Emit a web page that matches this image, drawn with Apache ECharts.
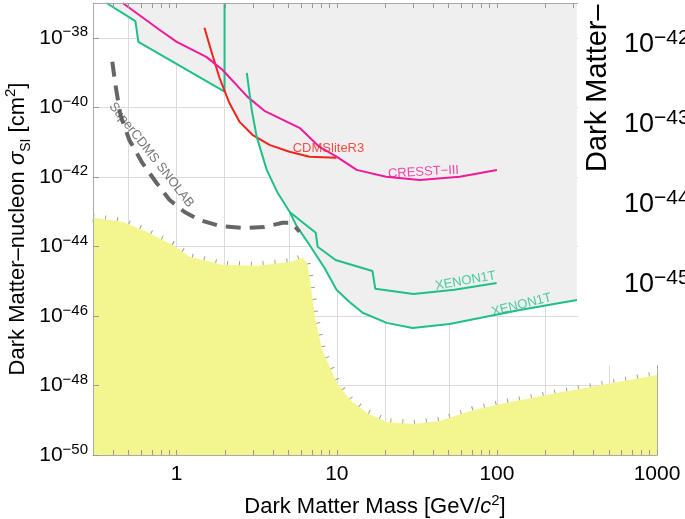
<!DOCTYPE html>
<html>
<head>
<meta charset="utf-8">
<title>Dark matter direct detection limits</title>
<script src="https://cdn.jsdelivr.net/npm/echarts@6/dist/echarts.min.js"></script>
<style>
    html, body { margin: 0; padding: 0; background: #fff; }
    #chart { width: 685px; height: 519px; }
</style>
</head>
<body>
<div id="chart"></div>
<script>
// masses in GeV/c^2, cross sections as log10(sigma / cm^2)
var greenMass = [0.364, 0.552, 0.576, 1.99, 1.99];
var greenLogSigma = [-37.0, -37.52, -38.12, -39.55, -37.0];

var cdmsMass = [1.49, 1.67, 1.85, 2.13, 2.47, 2.97, 3.8, 5.06, 6.75, 9.96];
var cdmsLogSigma = [-37.71, -38.49, -39.15, -39.87, -40.42, -40.79, -41.08, -41.28, -41.42, -41.45];

var cresstMass = [0.46, 0.78, 1.0, 1.53, 1.93, 2.77, 3.53, 5.85, 7.8, 9.96, 13.3, 20.3, 33, 58.6, 100];
var cresstLogSigma = [-37.0, -37.77, -38.12, -38.55, -38.92, -39.70, -40.10, -40.59, -41.14, -41.42, -41.80, -42.0, -42.09, -42.0, -41.80];

var xenonMass = [2.74, 2.94, 3.16, 3.65, 4.27, 5.08, 6.05, 7.39, 7.59, 9.82, 16.7, 17.4, 30.1, 54.3, 99.6];
var xenonLogSigma = [-39.01, -40.07, -40.85, -41.80, -42.46, -43.01, -43.29, -43.61, -44.01, -44.39, -44.71, -45.22, -45.37, -45.25, -45.05];

var xenon2Mass = [5.08, 5.6, 6.76, 8.38, 9.96, 12.0, 14.5, 20.5, 29.7, 50.6, 78, 139, 316];
var xenon2LogSigma = [-43.01, -43.41, -43.96, -44.62, -45.25, -45.60, -45.91, -46.20, -46.35, -46.23, -46.06, -45.83, -45.54];

var snolabMass = [0.396, 0.414, 0.445, 0.506, 0.61, 0.747, 0.9, 1.12, 1.39, 1.85, 2.65, 3.53, 4.58, 5.21, 5.85];
var snolabLogSigma = [-38.69, -39.35, -40.22, -40.94, -41.60, -42.17, -42.66, -43.01, -43.24, -43.41, -43.47, -43.44, -43.32, -43.32, -43.58];

// lower edge of the excluded (grey) region
var excludedMass = [0.364, 0.552, 0.576, 1.94, 2.13, 2.47, 3.16, 3.65, 4.27, 5.08, 5.6, 6.76, 8.38, 9.96, 12.0, 14.5, 20.5, 29.7, 50.6, 78, 139, 316];
var excludedLogSigma = [-37.0, -37.52, -38.12, -39.53, -39.87, -40.42, -40.85, -41.80, -42.46, -43.01, -43.41, -43.96, -44.62, -45.25, -45.60, -45.91, -46.20, -46.35, -46.23, -46.06, -45.83, -45.54];

// neutrino floor (yellow)
var floorMass = [0.3, 0.458, 0.648, 0.94, 1.2, 1.93, 3.16, 5.08, 6.13, 6.5, 6.8, 7.3, 8.1, 10, 12.1, 15.4, 20.5, 29.9, 43.8, 70.8, 115, 237, 488, 1000];
var floorLogSigma = [-43.18, -43.29, -43.58, -43.96, -44.30, -44.53, -44.56, -44.45, -44.33, -44.47, -44.96, -46.03, -46.98, -47.93, -48.42, -48.79, -49.05, -49.11, -49.02, -48.71, -48.50, -48.22, -47.96, -47.70];

// axes
var xTickLabels = [1, 10, 100, 1000];
var yTickLabels = [-50, -48, -46, -44, -42, -40, -38];
var xGridMass = [0.5, 1, 2, 5, 10, 20, 50, 100, 200, 500];
var yGridLog = [-48, -46, -44, -42, -40, -38];
var xMinorMass = [0.4, 0.5, 0.6, 0.7, 0.8, 0.9, 1, 2, 3, 4, 5, 6, 7, 8, 9, 10, 20, 30, 40, 50, 60, 70, 80, 90,
    100, 200, 300, 400, 500, 600, 700, 800, 900, 1000];

// labels of the neighbouring figure that overlaps the top right corner
var otherTickLabels = ['−42', '−43', '−44', '−45'];

var FONT = 'Liberation Sans, Arial, Helvetica, sans-serif';
var GREEN = '#1fbf8c';

function pts(mass, logSigma) {
    return mass.map(function (m, i) { return [Math.log10(m), logSigma[i]]; });
}
function lg(list) {
    return list.map(function (m) { return Math.log10(m); });
}

function curve(name, mass, logSigma, color) {
    return {
        name: name, type: 'line', z: 20, symbol: 'none', silent: true,
        data: pts(mass, logSigma),
        lineStyle: { color: color, width: 2 }
    };
}

// text placed next to a curve
function textLabel(text, m, logSigma, color, rotate) {
    return {
        type: 'scatter', z: 25, silent: true, symbolSize: 1,
        itemStyle: { color: 'transparent' },
        data: [[Math.log10(m), logSigma]],
        label: {
            show: true, position: 'inside', formatter: text, rotate: rotate,
            color: color, fontSize: 13, fontFamily: FONT
        }
    };
}

var myChart = echarts.init(document.getElementById('chart'));

var option = {
    animation: false,
    backgroundColor: '#fff',
    grid: { left: 93, right: 28, top: 3, bottom: 64, containLabel: false, outerBoundsMode: 'none' },
    xAxis: [{
        type: 'value', min: Math.log10(0.3), max: 3, z: 30,
        name: '{t|Dark Matter Mass [GeV/}{i|c}{s|2}{t|]}',
        nameLocation: 'middle', nameGap: 38, nameMoveOverlap: false,
        nameTextStyle: {
            rich: {
                t: { fontSize: 22, lineHeight: 28, fontFamily: FONT, color: '#000' },
                i: { fontSize: 22, lineHeight: 28, fontStyle: 'italic', fontFamily: FONT, color: '#000' },
                s: { fontSize: 15, lineHeight: 15, verticalAlign: 'top', fontFamily: FONT, color: '#000' }
            }
        },
        axisLine: { onZero: false, lineStyle: { color: '#aaa' } },
        axisTick: { inside: true, length: 5, customValues: lg(xMinorMass), lineStyle: { color: '#999' } },
        axisLabel: {
            customValues: lg(xTickLabels), margin: 9,
            fontSize: 21, fontFamily: FONT, color: '#000',
            formatter: function (v) { return String(Math.round(Math.pow(10, v))); }
        },
        splitLine: { show: false }
    }, {
        type: 'value', position: 'top', min: Math.log10(0.3), max: 3, z: 30,
        axisLine: { onZero: false, lineStyle: { color: '#aaa' } },
        axisTick: { inside: true, length: 5, customValues: lg(xMinorMass), lineStyle: { color: '#999' } },
        axisLabel: { show: false },
        splitLine: { show: false }
    }],
    yAxis: [{
        type: 'value', min: -50, max: -37, z: 30,
        name: '{t|Dark Matter–nucleon }{i|σ}{u|SI}{t| [cm}{s|2}{t|]}',
        nameLocation: 'middle', nameRotate: 90, nameGap: 60, nameMoveOverlap: false,
        nameTextStyle: {
            rich: {
                t: { fontSize: 22, lineHeight: 30, fontFamily: FONT, color: '#000' },
                i: { fontSize: 22, lineHeight: 30, fontStyle: 'italic', fontFamily: FONT, color: '#000' },
                u: { fontSize: 14, lineHeight: 14, verticalAlign: 'bottom', fontFamily: FONT, color: '#000' },
                s: { fontSize: 15, lineHeight: 15, verticalAlign: 'top', fontFamily: FONT, color: '#000' }
            }
        },
        axisLine: { show: true, onZero: false, lineStyle: { color: '#aaa' } },
        axisTick: { show: true, inside: true, length: 6, customValues: yTickLabels, lineStyle: { color: '#999' } },
        axisLabel: {
            customValues: yTickLabels, margin: 5,
            formatter: function (v) { return '{b|10}{s|−' + Math.abs(v) + '}'; },
            rich: {
                b: { fontSize: 21, lineHeight: 26, fontFamily: FONT, color: '#000' },
                s: { fontSize: 15, lineHeight: 15, verticalAlign: 'top', fontFamily: FONT, color: '#000' }
            }
        },
        splitLine: { show: false }
    }, {
        type: 'value', position: 'right', min: -50, max: -37, z: 30,
        axisLine: { show: true, onZero: false, lineStyle: { color: '#aaa' } },
        axisTick: { show: false },
        axisLabel: { show: false },
        splitLine: { show: false }
    }],
    series: [
        {
            // grid lines at 1-2-5
            type: 'line', z: 1, silent: true, data: [],
            markLine: {
                silent: true, symbol: 'none', label: { show: false },
                lineStyle: { color: '#dcdcdc', width: 1, type: 'solid' },
                data: lg(xGridMass).map(function (v) { return { xAxis: v }; })
                    .concat(yGridLog.map(function (v) { return { yAxis: v }; }))
            }
        },
        {
            name: 'excluded', type: 'line', z: 10, symbol: 'none', silent: true,
            data: pts(excludedMass, excludedLogSigma),
            lineStyle: { width: 0, opacity: 0 },
            areaStyle: { color: '#efefef', opacity: 1, origin: 'end' }
        },
        {
            // hatch marks along the neutrino floor
            type: 'line', z: 11, symbol: 'none', silent: true,
            data: pts(floorMass, floorLogSigma),
            lineStyle: { color: '#aaa07a', width: 8, type: [1, 11], cap: 'butt' }
        },
        {
            name: 'neutrino floor', type: 'line', z: 12, symbol: 'none', silent: true,
            data: pts(floorMass, floorLogSigma),
            lineStyle: { width: 0, opacity: 0 },
            areaStyle: { color: '#f3f68f', opacity: 1, origin: 'start' }
        },
        curve('green', greenMass, greenLogSigma, GREEN),
        curve('CDMSliteR3', cdmsMass, cdmsLogSigma, '#f0241c'),
        curve('CRESST-III', cresstMass, cresstLogSigma, '#ee1a9a'),
        curve('XENON1T', xenonMass, xenonLogSigma, GREEN),
        curve('XENON1T low', xenon2Mass, xenon2LogSigma, GREEN),
        {
            name: 'SuperCDMS SNOLAB', type: 'line', z: 20, symbol: 'none', silent: true,
            data: pts(snolabMass, snolabLogSigma),
            lineStyle: { color: '#666', width: 4, type: [15, 9], cap: 'butt' }
        },
        textLabel('CDMSliteR3', 8.87, -41.19, '#f0241c', 0),
        textLabel('CRESST−III', 34.8, -41.86, '#ee1a9a', 3),
        textLabel('XENON1T', 63.7, -44.99, GREEN, 10),
        textLabel('XENON1T', 142.6, -45.68, GREEN, 14),
        textLabel('SuperCDMS SNOLAB', 0.695, -41.37, '#555', -52)
    ],
    graphic: [
        // piece of a neighbouring figure covering the top right corner
        { type: 'rect', z: 100, shape: { x: 578, y: 0, width: 107, height: 365 }, style: { fill: '#fff' } },
        {
            type: 'text', z: 101, x: 598, y: 172, rotation: Math.PI / 2,
            style: { text: 'Dark Matter–', fontSize: 29, fontFamily: FONT, fill: '#000', align: 'left', verticalAlign: 'middle' }
        }
    ].concat(otherTickLabels.map(function (t, i) {
        return {
            type: 'text', z: 101, x: 624, y: 45 + i * 80,
            style: {
                text: '{b|10}{s|' + t + '}', align: 'left', verticalAlign: 'middle',
                rich: {
                    b: { fontSize: 27, lineHeight: 34, fontFamily: FONT, fill: '#000' },
                    s: { fontSize: 21, lineHeight: 21, verticalAlign: 'top', fontFamily: FONT, fill: '#000' }
                }
            }
        };
    }))
};

myChart.setOption(option);
</script>
</body>
</html>
